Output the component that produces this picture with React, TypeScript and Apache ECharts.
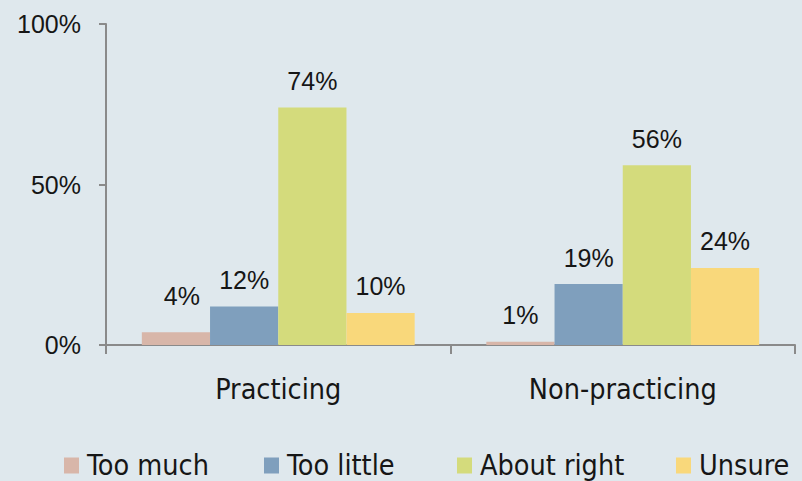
import React, { useEffect, useRef } from "react";
import * as echarts from "echarts";

const categories = ["Practicing", "Non-practicing"];
const seriesNames = ["Too much", "Too little", "About right", "Unsure"];
const tooMuch = [4, 1];
const tooLittle = [12, 19];
const aboutRight = [74, 56];
const unsure = [10, 24];
const yTicks = [0, 50, 100];

const values = [tooMuch, tooLittle, aboutRight, unsure];
const colors = ["#d8b6a9", "#7f9fbd", "#d4db7c", "#f9d87b"];
const legendLeft = [64, 264, 457, 676];

const TEXT_FONT = "'DejaVu Sans Condensed', 'DejaVu Sans', sans-serif";
const NUM_FONT = "'Liberation Sans Narrow', 'Liberation Sans', sans-serif";
const TEXT_COLOR = "#161616";

export default function App() {
  const ref = useRef<HTMLDivElement>(null);
  useEffect(() => {
    if (!ref.current) return;
    const chart = echarts.init(ref.current, null, { renderer: "svg" });
    const series = seriesNames.map((name, si) => ({
      name,
      type: "bar",
      barGap: "0%",
      barCategoryGap: "20.8%",
      itemStyle: { color: colors[si] },
      label: {
        show: true,
        position: "top",
        distance: 14,
        formatter: "{c}%",
        fontFamily: NUM_FONT,
        fontSize: 25,
        color: TEXT_COLOR,
      },
      data: values[si].map((v, ci) =>
        si === 0 && ci === 0
          ? { value: v, label: { offset: [6, -10] } }
          : v
      ),
    }));
    chart.setOption({
      animation: false,
      backgroundColor: "#dfe8ed",
      grid: { left: 106, right: 7, top: 24, bottom: 136 },
      legend: seriesNames.map((name, i) => ({
        data: [name],
        left: legendLeft[i],
        top: 451,
        padding: 0,
        icon: "rect",
        itemWidth: 15,
        itemHeight: 16,
        textStyle: {
          fontFamily: TEXT_FONT,
          fontSize: 28.5,
          color: TEXT_COLOR,
          padding: [0, 0, 0, 3],
        },
      })),
      xAxis: {
        type: "category",
        data: categories,
        axisLine: { lineStyle: { color: "#8a8a8a", width: 2 } },
        axisTick: { show: true, length: 9, lineStyle: { color: "#8a8a8a", width: 2 } },
        axisLabel: {
          fontFamily: TEXT_FONT,
          fontSize: 28.5,
          color: TEXT_COLOR,
          margin: 30,
        },
      },
      yAxis: {
        type: "value",
        min: yTicks[0],
        max: yTicks[yTicks.length - 1],
        interval: yTicks[1] - yTicks[0],
        splitLine: { show: false },
        axisLine: { show: true, lineStyle: { color: "#8a8a8a", width: 2 } },
        axisTick: { show: true, length: 7, lineStyle: { color: "#8a8a8a", width: 2 } },
        axisLabel: {
          formatter: "{value}%",
          fontFamily: NUM_FONT,
          fontSize: 25,
          color: TEXT_COLOR,
          margin: 25,
        },
      },
      series,
    });
    return () => chart.dispose();
  }, []);
  return (
    <div
      ref={ref}
      style={{ position: "absolute", left: 0, top: 0, width: 802, height: 481 }}
    />
  );
}
